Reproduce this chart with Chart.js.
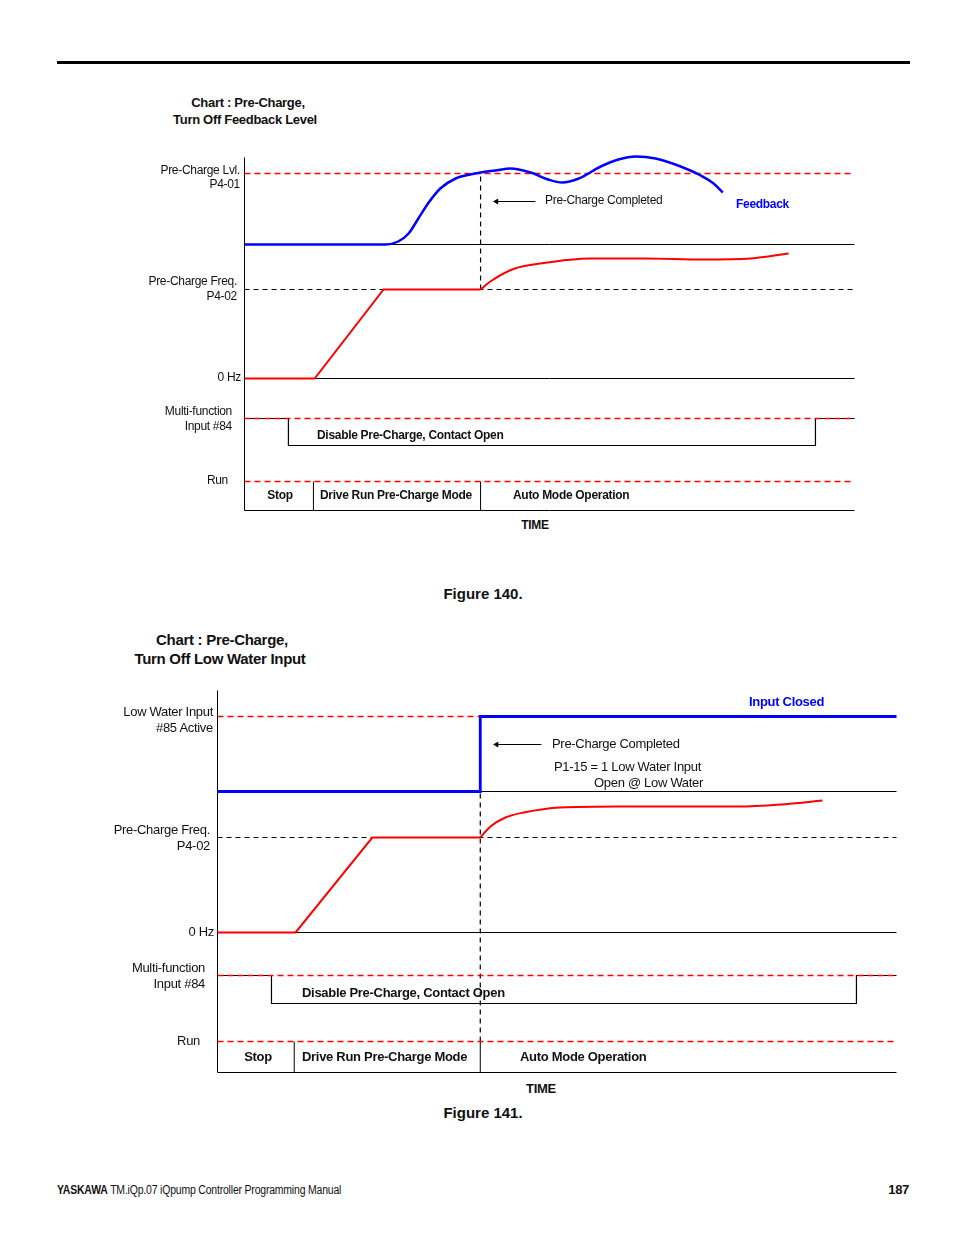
<!DOCTYPE html>
<html><head><meta charset="utf-8">
<script src="https://cdn.jsdelivr.net/npm/chart.js@4.4.1/dist/chart.umd.min.js"></script>
<style>
html,body{margin:0;padding:0;background:#fff;}
body{width:954px;height:1235px;position:relative;overflow:hidden;font-family:"Liberation Sans",Arial,sans-serif;color:#111;}
canvas{position:absolute;}
.t{position:absolute;white-space:nowrap;letter-spacing:-0.3px;}
.rule{position:absolute;left:57px;top:61px;width:853px;height:3px;background:#000;}
</style></head>
<body>
<div class="rule"></div>
<canvas id="c1" width="620" height="370" style="left:239px;top:145px;width:620px;height:370px"></canvas>
<canvas id="c2" width="689" height="392" style="left:212px;top:685px;width:689px;height:392px"></canvas>
<div id="labels"></div>
<script>
// ---------- Figure 140 (time 0..100, signal level units) ----------
const f1FeedbackT = [0, 23.1, 25.2, 26.9, 28.5, 30.2, 32.1, 34.6, 37.0, 38.7, 41.1, 43.6, 46.9, 49.8, 52.1, 54.8, 58.4, 61.3, 64.1, 67.4, 71.5, 74.8, 76.9, 78.4];
const f1FeedbackV = [266, 266, 269, 277, 292, 308, 322, 332, 336, 338, 340, 342, 338, 331, 328, 332, 344, 351, 354, 352, 344, 335, 327, 318];
const f1RampT = [0, 11.5, 22.8, 38.7];
const f1RampV = [132, 132, 221, 221];
const f1AutoT = [38.7, 40.3, 44.3, 48.5, 56.7, 65.6, 75.2, 83.0, 89.2];
const f1AutoV = [221, 229, 242, 247, 252, 252, 251, 252, 257];
const f1InputT = [0, 7.2, 7.2, 93.6, 93.6, 100];
const f1InputV = [92, 92, 65, 65, 92, 92];
// levels: Pre-Charge Lvl, feedback base, Pre-Charge Freq, 0 Hz, MF input, Run, bottom, axis top
const f1Levels = [337, 266, 221, 132, 92, 29, 0, 353];
const f1ModeBounds = [11.3, 38.7];
const f1ArrowT = [41.3, 47.7];
const f1ArrowV = 309;

// ---------- Figure 141 ----------
const f2WaterT = [0, 38.7, 38.7, 100];
const f2WaterV = [281, 281, 356, 356];
const f2RampT = [0, 11.5, 22.8, 38.7];
const f2RampV = [140, 140, 235, 235];
const f2AutoT = [38.7, 40.2, 42.4, 45.1, 50.5, 59.4, 68.2, 76.6, 82.9, 89.1];
const f2AutoV = [235, 246, 255, 260, 265, 266, 266, 266, 268, 272];
const f2InputT = [0, 7.95, 7.95, 94.1, 94.1, 100];
const f2InputV = [97, 97, 69, 69, 97, 97];
// levels: Low Water dashed, input-open base, Pre-Charge Freq, 0 Hz, MF input, Run, bottom, axis top
const f2Levels = [356, 281, 235, 140, 97, 31, 0, 382];
const f2ModeBounds = [11.3, 38.7];
const f2ArrowT = [41.1, 47.7];
const f2ArrowV = 328;

const RED = '#ff0000', BLUE = '#0000ff', BLACK = '#000000';
const pts = (xs, ys) => xs.map((x, i) => ({x: x, y: ys[i]}));
const GAP = {x: null, y: null};

function line(data, color, width, dash, smooth) {
  return {data: data, showLine: true, borderColor: color, borderWidth: width,
    borderDash: dash || [], pointRadius: 0, fill: false, spanGaps: false,
    tension: 0, cubicInterpolationMode: smooth ? 'monotone' : 'default', clip: 6};
}
function arrow(ts, v) {
  return {data: [{x: ts[0], y: v}, {x: ts[1], y: v}], showLine: true, borderColor: BLACK,
    borderWidth: 1, pointRadius: [3.5, 0], pointStyle: 'triangle', rotation: 270,
    pointBackgroundColor: BLACK, pointBorderColor: BLACK, pointBorderWidth: 0, clip: 6};
}
function hseg(v, t0, t1) { return [{x: t0, y: v}, {x: t1, y: v}, GAP]; }
function vseg(t, v0, v1) { return [{x: t, y: v0}, {x: t, y: v1}, GAP]; }

function build(id, yMax, L, ramp, auto, input, bounds, arr, topCurve, dashTop, dashVert, topWidth, smoothTop) {
  const ds = [];
  ds.push(line(topCurve, BLUE, topWidth, null, smoothTop));
  ds.push(line(auto, RED, 2, null, true));
  ds.push(line(ramp, RED, 2));
  ds.push(arrow(arr.t, arr.v));
  // red dashed reference lines
  ds.push(line([].concat(dashTop, hseg(L[4], 0, 100), hseg(L[5], 0, 100)), RED, 1.5, [6, 4]));
  // black dashed: Pre-Charge Freq and completion marker
  ds.push(line([].concat(hseg(L[2], 0, 100), dashVert), BLACK, 1.2, [5, 4]));
  // black solid frame lines
  ds.push(line([].concat(
    vseg(0, L[6], L[7]), hseg(L[1], 0, 100), hseg(L[3], 0, 100), hseg(L[6], 0, 100),
    vseg(bounds[0], L[6], L[5]), vseg(bounds[1], L[6], L[5])), BLACK, 1));
  ds.push(line(input, BLACK, 1.2));
  return new Chart(document.getElementById(id), {
    type: 'scatter',
    data: {datasets: ds},
    options: {
      responsive: false, animation: false, events: [],
      layout: {padding: {left: 5.5, top: 5.5, right: 4.5, bottom: 4.5}},
      plugins: {legend: {display: false}, tooltip: {enabled: false}},
      scales: {
        x: {type: 'linear', min: 0, max: 100, display: false},
        y: {type: 'linear', min: 0, max: yMax, display: false}
      }
    }
  });
}

build('c1', 360, f1Levels, pts(f1RampT, f1RampV), pts(f1AutoT, f1AutoV), pts(f1InputT, f1InputV),
  f1ModeBounds, {t: f1ArrowT, v: f1ArrowV}, pts(f1FeedbackT, f1FeedbackV),
  hseg(f1Levels[0], 0, 100), vseg(f1ModeBounds[1], f1Levels[2], f1Levels[0]), 2.5, true);

build('c2', 382, f2Levels, pts(f2RampT, f2RampV), pts(f2AutoT, f2AutoV), pts(f2InputT, f2InputV),
  f2ModeBounds, {t: f2ArrowT, v: f2ArrowV}, pts(f2WaterT, f2WaterV),
  hseg(f2Levels[0], 0, 38.7),
  vseg(f2ModeBounds[1], f2Levels[5], f2Levels[1]), 2.8, false);

// ---------- text ----------
const labels = [
  // [text, x, yCenter, anchor, size, bold, color]
  ['Chart : Pre-Charge,', 248, 102, 'c', 13, 1],
  ['Turn Off Feedback Level', 245, 119, 'c', 13, 1],
  ['Pre-Charge Lvl.', 240, 170, 'r', 12, 0],
  ['P4-01', 240, 184, 'r', 12, 0],
  ['Pre-Charge Freq.', 237, 281, 'r', 12, 0],
  ['P4-02', 237, 296, 'r', 12, 0],
  ['0 Hz', 241, 377, 'r', 12, 0],
  ['Multi-function', 232, 411, 'r', 12, 0],
  ['Input #84', 232, 426, 'r', 12, 0],
  ['Run', 228, 480, 'r', 12, 0],
  ['Pre-Charge Completed', 545, 200, 'l', 12, 0],
  ['Feedback', 736, 204, 'l', 12, 1, BLUE],
  ['Disable Pre-Charge, Contact Open', 317, 435, 'l', 12, 1],
  ['Stop', 280, 495, 'c', 12, 1],
  ['Drive Run Pre-Charge Mode', 320, 495, 'l', 12, 1],
  ['Auto Mode Operation', 513, 495, 'l', 12, 1],
  ['TIME', 535, 525, 'c', 12, 1],
  ['Figure 140.', 483, 593, 'c', 15, 1],
  ['Chart : Pre-Charge,', 222, 639, 'c', 15, 1],
  ['Turn Off Low Water Input', 220, 658, 'c', 15, 1],
  ['Low Water Input', 213, 711, 'r', 13, 0],
  ['#85 Active', 213, 727, 'r', 13, 0],
  ['Pre-Charge Freq.', 210, 829, 'r', 13, 0],
  ['P4-02', 210, 845, 'r', 13, 0],
  ['0 Hz', 214, 931, 'r', 13, 0],
  ['Multi-function', 205, 967, 'r', 13, 0],
  ['Input #84', 205, 983, 'r', 13, 0],
  ['Run', 200, 1040, 'r', 13, 0],
  ['Input Closed', 749, 701, 'l', 13, 1, BLUE],
  ['Pre-Charge Completed', 552, 743, 'l', 13, 0],
  ['P1-15 = 1 Low Water Input', 554, 766, 'l', 13, 0],
  ['Open @ Low Water', 594, 782, 'l', 13, 0],
  ['Disable Pre-Charge, Contact Open', 302, 992, 'l', 13, 1],
  ['Stop', 258, 1056, 'c', 13, 1],
  ['Drive Run Pre-Charge Mode', 302, 1056, 'l', 13, 1],
  ['Auto Mode Operation', 520, 1056, 'l', 13, 1],
  ['TIME', 541, 1088, 'c', 13, 1],
  ['Figure 141.', 483, 1112, 'c', 15, 1],
  ['187', 909, 1189, 'r', 13, 1]
];
const host = document.getElementById('labels');
labels.forEach(l => {
  const d = document.createElement('div');
  d.className = 't';
  d.textContent = l[0];
  d.style.fontSize = l[4] + 'px';
  d.style.lineHeight = l[4] + 'px';
  d.style.fontWeight = l[5] ? 'bold' : 'normal';
  if (l[6]) d.style.color = l[6];
  if (l[0].startsWith('Figure')) d.style.letterSpacing = '0px';
  d.style.top = (l[2] - l[4] / 2) + 'px';
  if (l[3] === 'l') d.style.left = l[1] + 'px';
  else if (l[3] === 'r') d.style.right = (954 - l[1]) + 'px';
  else { d.style.left = l[1] + 'px'; d.style.transform = 'translateX(-50%)'; }
  host.appendChild(d);
});
const foot = document.createElement('div');
foot.className = 't';
foot.style.cssText = 'left:57px;top:1184px;font-size:12px;line-height:12px;letter-spacing:-0.2px;transform:scaleX(0.87);transform-origin:0 0;';
foot.innerHTML = '<b>YASKAWA</b> TM.iQp.07 iQpump Controller Programming Manual';
host.appendChild(foot);
</script>
</body></html>
